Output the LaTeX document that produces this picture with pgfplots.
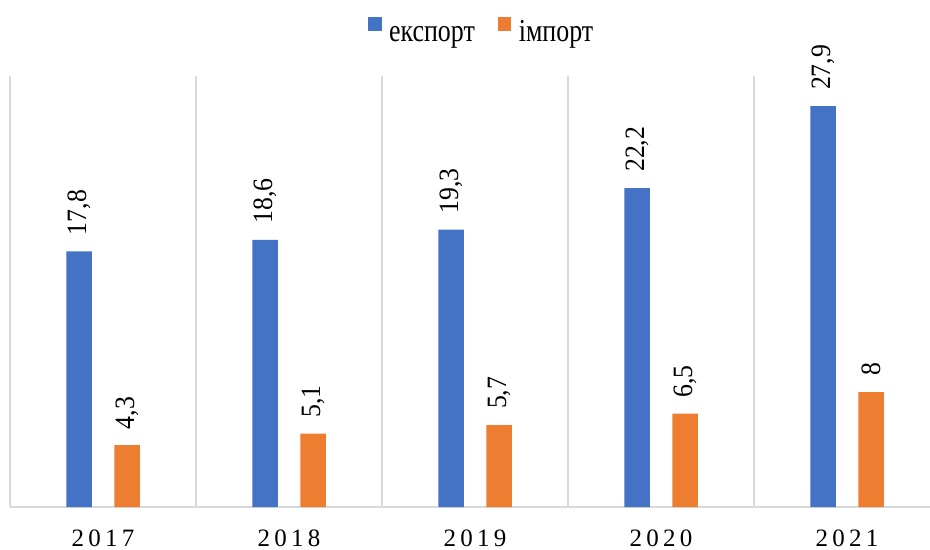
\documentclass[border=0pt]{standalone}
\usepackage{fontspec}
\setmainfont{Liberation Serif}
\newfontfamily\yearfont[LetterSpace=17]{Liberation Serif}
\newfontfamily\labfont[FakeStretch=0.92]{Liberation Serif}
\newfontfamily\legfont[FakeStretch=0.81]{Liberation Serif}
\usepackage{pgfplots}
\pgfplotsset{compat=1.18}
\definecolor{cblue}{HTML}{4472C4}
\definecolor{corange}{HTML}{ED7D31}
\definecolor{cgrid}{HTML}{D9D9D9}
\begin{document}
\begin{tikzpicture}
\begin{axis}[
  scale only axis, width=920bp, height=431bp,
  ybar=22.5bp, bar width=25.5bp,
  xmin=-0.5, xmax=4.446, ymin=0, ymax=30,
  xtick={0,1,2,3,4}, xticklabels={2017,2018,2019,2020,2021},
  xticklabel style={font=\fontsize{25bp}{30bp}\yearfont, anchor=base, inner sep=0pt, yshift=-39bp},
  major tick length=0, minor tick length=0,
  minor xtick={-0.5,0.5,1.5,2.5,3.5},
  xminorgrids, minor x grid style={cgrid, line width=1.3bp},
  axis x line*=bottom, axis y line=none,
  x axis line style={cgrid, line width=1.5bp},
  ytick=\empty,
  point meta=explicit symbolic,
  nodes near coords,
  nodes near coords style={font=\fontsize{28bp}{32bp}\labfont, rotate=90, anchor=west, inner xsep=16bp, inner ysep=0pt, text=black},
  legend style={at={(0.389,1.1063)}, anchor=west, draw=none, legend columns=-1, inner sep=0pt,
    font=\fontsize{32bp}{36bp}\legfont, nodes={inner sep=0pt, text height=23bp, text depth=8bp},
    /tikz/every odd column/.append style={column sep=7.5bp},
    /tikz/every even column/.append style={column sep=23bp}},
  legend image code/.code={\path[fill=none, draw=none] (0bp,-8bp) rectangle (13.5bp,23bp); \fill[#1] (0bp,3bp) rectangle (13.5bp,16.5bp);},
]
\addplot[fill=cblue, draw=none] coordinates {(0,17.8) [17,8] (1,18.6) [18,6] (2,19.3) [19,3] (3,22.2) [22,2] (4,27.9) [27,9]};
\addplot[fill=corange, draw=none] coordinates {(0,4.3) [4,3] (1,5.1) [5,1] (2,5.7) [5,7] (3,6.5) [6,5] (4,8) [8]};
\legend{експорт, імпорт}
\end{axis}
\pgfresetboundingbox
\path ([xshift=-10bp,yshift=-43bp]current axis.south west) rectangle ([yshift=76bp]current axis.north east);
\end{tikzpicture}
\end{document}
